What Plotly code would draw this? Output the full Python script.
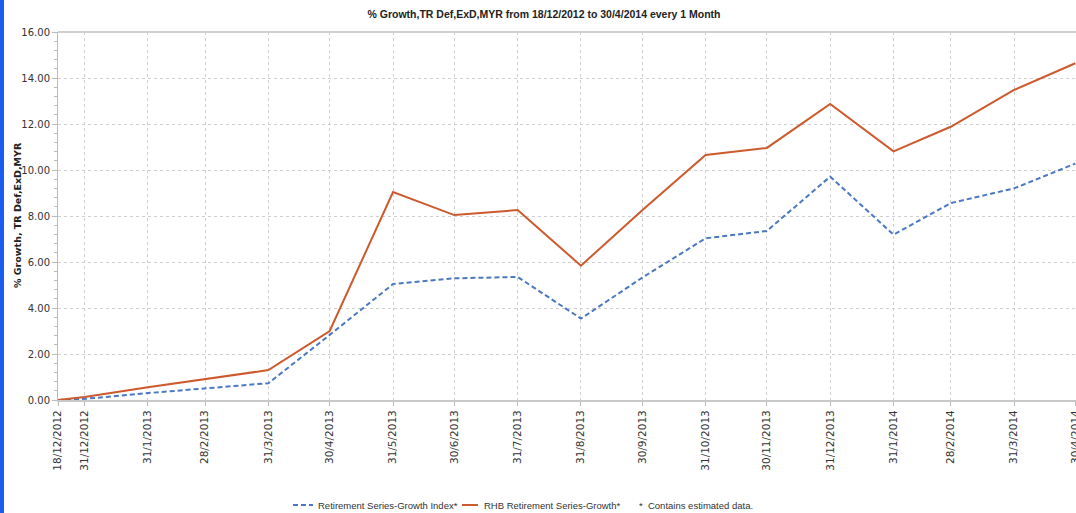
import plotly.graph_objects as go

dates = ["2012-12-18", "2012-12-31", "2013-01-31", "2013-02-28", "2013-03-31", "2013-04-30",
         "2013-05-31", "2013-06-30", "2013-07-31", "2013-08-31", "2013-09-30", "2013-10-31",
         "2013-11-30", "2013-12-31", "2014-01-31", "2014-02-28", "2014-03-31", "2014-04-30"]
tick_labels = ["18/12/2012", "31/12/2012", "31/1/2013", "28/2/2013", "31/3/2013", "30/4/2013",
               "31/5/2013", "30/6/2013", "31/7/2013", "31/8/2013", "30/9/2013", "31/10/2013",
               "30/11/2013", "31/12/2013", "31/1/2014", "28/2/2014", "31/3/2014", "30/4/2014"]
index_values = [0.00, 0.05, 0.30, 0.50, 0.73, 2.83, 5.04, 5.29, 5.35, 3.54, 5.32, 7.03,
                7.35, 9.71, 7.19, 8.56, 9.20, 10.28]
fund_values = [0.00, 0.13, 0.55, 0.90, 1.30, 3.00, 9.04, 8.04, 8.26, 5.84, 8.25, 10.65,
               10.96, 12.87, 10.81, 11.88, 13.48, 14.64]
series_names = ["Retirement Series-Growth Index*", "RHB Retirement Series-Growth*"]
series_colors = ["#4a78c2", "#cc5a2c"]
note_text = "*  Contains estimated data."
y_title = "% Growth, TR Def,ExD,MYR"
y_ticks = [0, 2, 4, 6, 8, 10, 12, 14, 16]

W, H = 1076, 513
L, R, T, B = 58, 0, 32, 113
pw = W - L - R
ph = H - T - B


def px_x(p):
    return (p - L) / pw


def px_y(p):
    return (H - B - p) / ph


fig = go.Figure()
fig.add_trace(go.Scatter(x=dates, y=index_values, mode="lines", name=series_names[0],
                         line=dict(color=series_colors[0], width=2, dash="5px,3px")))
fig.add_trace(go.Scatter(x=dates, y=fund_values, mode="lines", name=series_names[1],
                         line=dict(color=series_colors[1], width=2)))

fig.update_layout(
    width=W, height=H,
    margin=dict(l=L, r=R, t=T, b=B, pad=0, autoexpand=False),
    paper_bgcolor="white", plot_bgcolor="white",
    title=dict(text="% Growth,TR Def,ExD,MYR from 18/12/2012 to 30/4/2014 every 1 Month",
               x=px_x(544), xref="paper", xanchor="center", y=1 - 14 / H, yanchor="middle",
               font=dict(family="Liberation Sans", size=10.5, color="#222222", weight="bold")),
    showlegend=False,
    xaxis=dict(type="date", range=["2012-12-18", "2014-04-30 08:00"],
               tickmode="array", tickvals=dates, ticktext=tick_labels,
               tickangle=-90, tickfont=dict(family="DejaVu Sans", size=10.5, color="#333333"),
               ticklabeloverflow="allow", automargin=False,
               showgrid=True, gridcolor="#cfcfcf", griddash="dot", gridwidth=1,
               showline=True, linecolor="#c8c8c8", linewidth=2,
               ticks="outside", ticklen=4, tickcolor="#bbbbbb",
               zeroline=False),
    yaxis=dict(range=[0, 16], tickmode="array", tickvals=y_ticks,
               ticktext=[f"{v:.2f}" for v in y_ticks],
               tickfont=dict(family="DejaVu Sans", size=10, color="#333333"),
               automargin=False,
               showgrid=True, gridcolor="#cfcfcf", griddash="dot", gridwidth=1,
               showline=True, linecolor="#bbbbbb", linewidth=1,
               ticks="outside", ticklen=5, tickcolor="#bbbbbb",
               minor=dict(dtick=0.4, ticks="outside", ticklen=3, tickcolor="#bbbbbb", showgrid=False),
               zeroline=False),
)

# y-axis title placed precisely
fig.add_annotation(text=y_title, xref="paper", yref="paper", x=px_x(17), xanchor="center",
                   y=px_y(215), yanchor="middle", textangle=-90, showarrow=False,
                   font=dict(family="DejaVu Sans", size=9.5, color="#222222", weight="bold"))

# top border of plot area
fig.add_shape(type="line", xref="paper", yref="paper", x0=0, x1=1, y0=1, y1=1,
              line=dict(color="#d0d0d0", width=2))
# blue frame strip on the left edge of the window
fig.add_shape(type="rect", xref="paper", yref="paper",
              x0=px_x(0), x1=px_x(4), y0=px_y(H), y1=px_y(0),
              line=dict(width=0), fillcolor="#1a5cf0", layer="above")

# manual legend
leg_y = px_y(505)
legend_items = [(293, 313, 316, "5px,3px"), (462, 478, 482, "solid")]
for (s0, s1, tx, dash), name, col in zip(legend_items, series_names, series_colors):
    fig.add_shape(type="line", xref="paper", yref="paper", x0=px_x(s0), x1=px_x(s1),
                  y0=leg_y, y1=leg_y, line=dict(color=col, width=2, dash=dash))
    fig.add_annotation(text=name, xref="paper", yref="paper", x=px_x(tx), xanchor="left",
                       y=leg_y, yanchor="middle", showarrow=False,
                       font=dict(family="Liberation Sans", size=9.5, color="#333333"))
fig.add_annotation(text=note_text, xref="paper", yref="paper",
                   x=px_x(637), xanchor="left", y=leg_y, yanchor="middle", showarrow=False,
                   font=dict(family="Liberation Sans", size=9.5, color="#333333"))

fig.write_html("out.html", config={"displayModeBar": False},
               post_script="document.body.style.margin='0px';")
